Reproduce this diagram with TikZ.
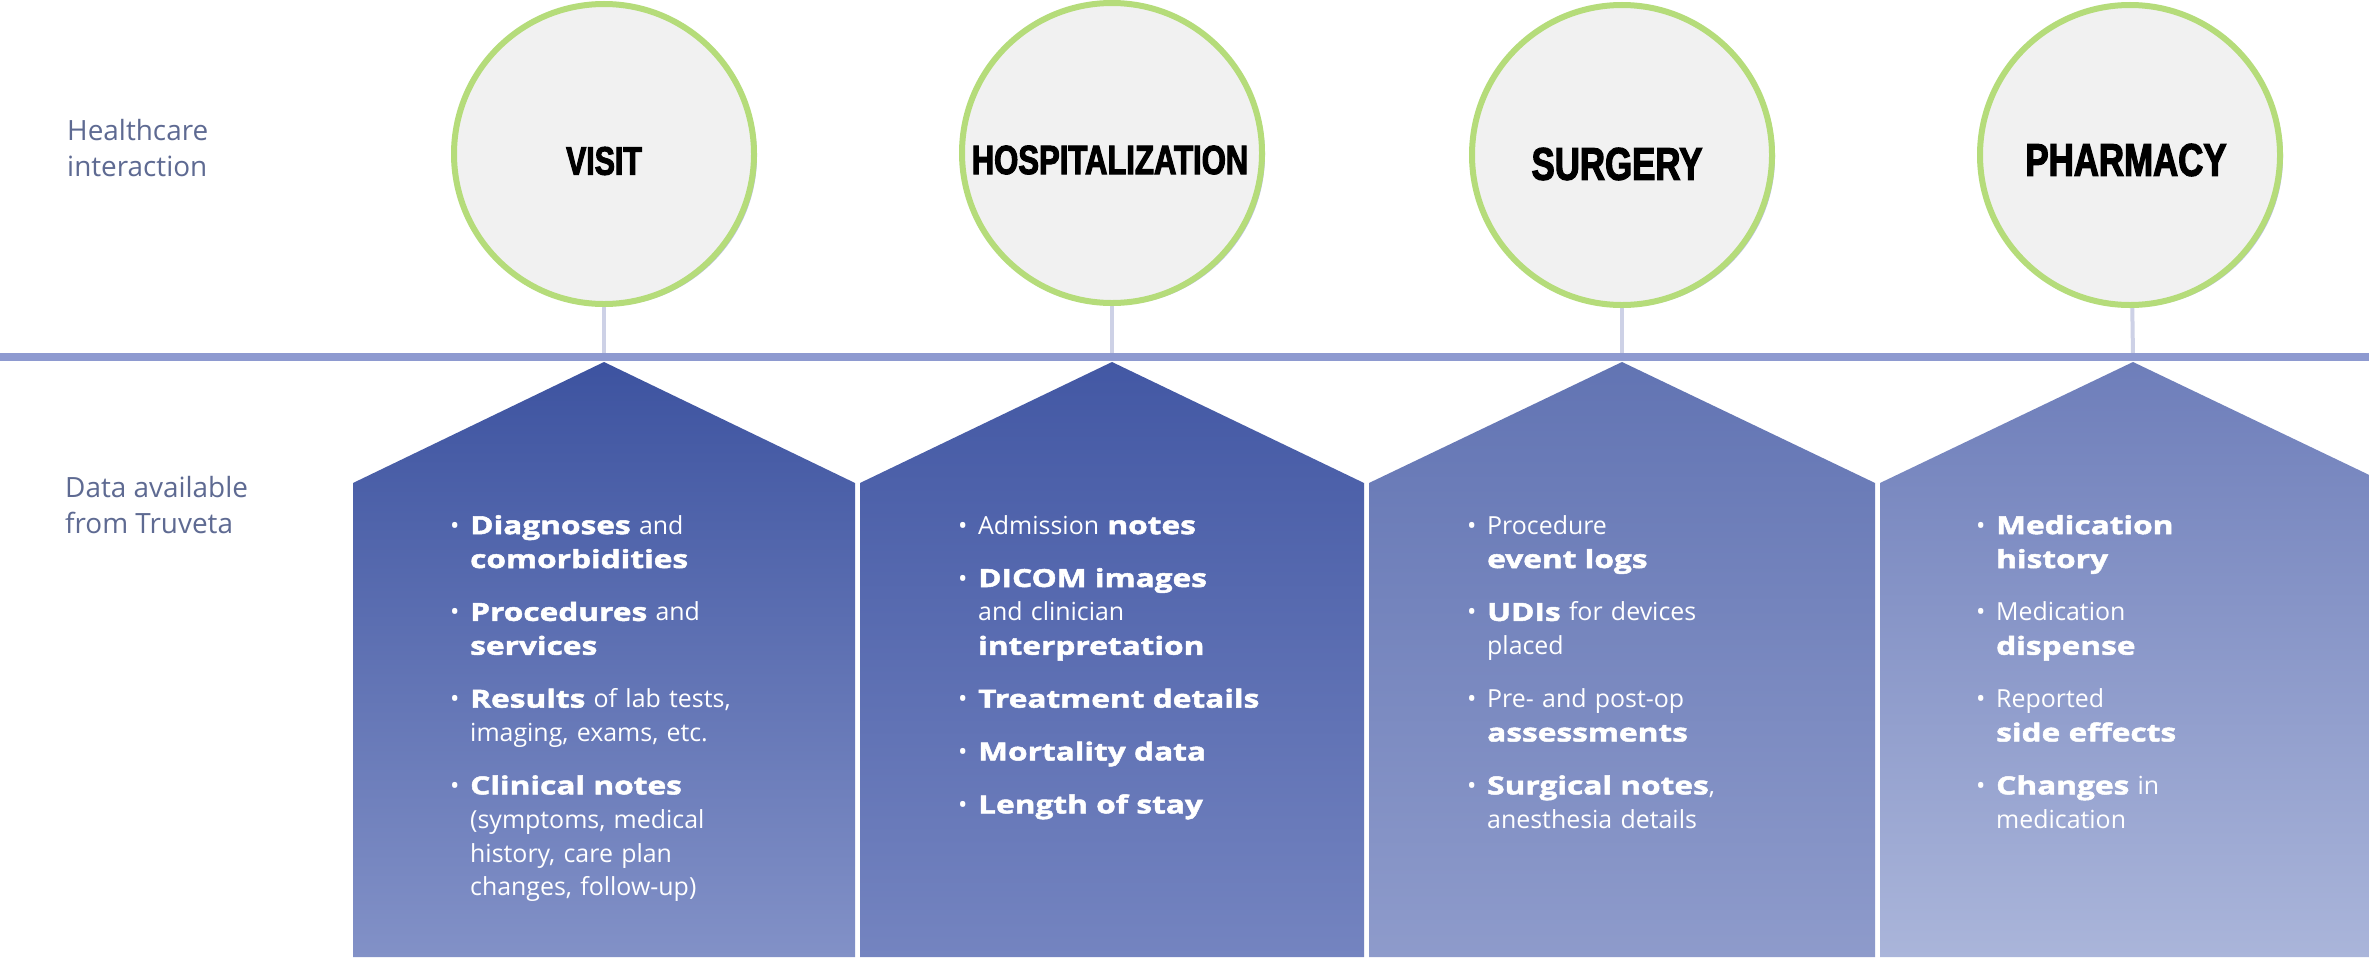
\documentclass[tikz,border=0pt]{standalone}
\usepackage{fontspec}
\setmainfont{Open Sans}
\newfontfamily\heavy{Open Sans}[FakeStretch=1.27,BoldFeatures={FakeBold=2}]
\newfontfamily\titlef{Liberation Sans}[FakeStretch=0.76,BoldFeatures={FakeBold=2.5}]
\usetikzlibrary{shadows}

\definecolor{lbl}{HTML}{5E6A92}
\definecolor{ring}{HTML}{B5DC7A}
\definecolor{disc}{HTML}{F1F1F1}
\definecolor{axis}{HTML}{8E9AD0}
\definecolor{stem}{HTML}{CDD1E6}
\definecolor{vT}{HTML}{3D53A0}\definecolor{vB}{HTML}{8291C7}
\definecolor{hT}{HTML}{4358A4}\definecolor{hB}{HTML}{7484C0}
\definecolor{sT}{HTML}{6274B3}\definecolor{sB}{HTML}{8E9BCB}
\definecolor{pT}{HTML}{6E7EBA}\definecolor{pB}{HTML}{AAB5DA}

\newcommand{\hb}[1]{{\heavy\bfseries #1}}
\newcommand{\bitem}[1]{\hangindent=20bp\hangafter=1\noindent\makebox[20bp][l]{\textbullet}#1\par\vspace{19bp}}

\tikzset{
  evtcircle/.style={circle, minimum size=300bp, inner sep=0pt, draw=ring, line width=6bp, fill=disc,
    drop shadow={shadow xshift=3bp, shadow yshift=-2bp, fill=axis, opacity=0.6}},
  evttitle/.style={inner sep=0pt, font=\titlef\bfseries\fontsize{#1}{#1}\selectfont, text=black},
  sidelbl/.style={anchor=north west, inner sep=0pt, align=left, text=lbl, font=\fontsize{28}{36}\selectfont},
  bullets/.style={anchor=north west, inner sep=0pt, text width=420bp, align=left, text=white, font=\fontsize{25}{34}\selectfont},
  axisline/.style={draw=axis, line width=8bp},
  stemline/.style={draw=stem, line width=4bp},
}

\begin{document}
\begin{tikzpicture}[x=1bp,y=-1bp]
\useasboundingbox (0,0) rectangle (2369,957);
\fill[white] (0,0) rectangle (2369,957);
\clip (0,0) rectangle (2369,957);

% side labels
\node[sidelbl] (hc) at (67,119) {Healthcare\\interaction};
\node[sidelbl] (dt) at (65,476) {Data available\\from Truveta};

% axis
\coordinate (axL) at (0,357);
\coordinate (axR) at (2369,357);
\coordinate (a1) at (604,357);
\coordinate (a2) at (1112,357);
\coordinate (a3) at (1622,357);
\coordinate (a4) at (2133,357);

% circle positions
\coordinate (visit) at (604,154);
\coordinate (hosp) at (1112,153);
\coordinate (surg) at (1622,155);
\coordinate (pharm) at (2130,155);

% stems
\draw[stemline] (visit) -- (a1);
\draw[stemline] (hosp) -- (a2);
\draw[stemline] (surg) -- (a3);
\draw[stemline] (pharm) -- (a4);

\draw[axisline] (axL) -- (axR);

% circles on top of stems
\node[evtcircle] (visit-c) at (visit) {};
\node[evtcircle] (hosp-c) at (hosp) {};
\node[evtcircle] (surg-c) at (surg) {};
\node[evtcircle] (pharm-c) at (pharm) {};

\node[evttitle=40] (visit-t) at (604,161) {VISIT};
\node[evttitle=41] (hosp-t) at (1110,160) {HOSPITALIZATION};
\node[evttitle=46] (surg-t) at (1617,164) {SURGERY};
\node[evttitle=46] (pharm-t) at (2126,160) {PHARMACY};

% panels
\shade[top color=vT, bottom color=vB] (353,957) -- (353,483) -- (604,362) -- (855,483) -- (855,957) -- cycle;
\shade[top color=hT, bottom color=hB] (860,957) -- (860,483) -- (1112,362) -- (1364,483) -- (1364,957) -- cycle;
\shade[top color=sT, bottom color=sB] (1369,957) -- (1369,483) -- (1622,362) -- (1875,483) -- (1875,957) -- cycle;
\shade[top color=pT, bottom color=pB] (1880,957) -- (1880,483) -- (2133,362) -- (2386,483) -- (2386,957) -- cycle;

% panel texts
\node[bullets] (visit-d) at (450,515) {%
\bitem{\hb{Diagnoses} and\newline\hb{comorbidities}}
\bitem{\hb{Procedures} and\newline\hb{services}}
\bitem{\hb{Results} of lab tests,\newline imaging, exams, etc.}
\bitem{\hb{Clinical notes}\newline(symptoms, medical\newline history, care plan\newline changes, follow-up)}};

\node[bullets] (hosp-d) at (958,515) {%
\bitem{Admission \hb{notes}}
\bitem{\hb{DICOM images}\newline and clinician\newline\hb{interpretation}}
\bitem{\hb{Treatment details}}
\bitem{\hb{Mortality data}}
\bitem{\hb{Length of stay}}};

\node[bullets] (surg-d) at (1467,515) {%
\bitem{Procedure\newline\hb{event logs}}
\bitem{\hb{UDIs} for devices\newline placed}
\bitem{Pre- and post-op\newline\hb{assessments}}
\bitem{\hb{Surgical notes},\newline anesthesia details}};

\node[bullets] (pharm-d) at (1976,515) {%
\bitem{\hb{Medication}\newline\hb{history}}
\bitem{Medication\newline\hb{dispense}}
\bitem{Reported\newline\hb{side effects}}
\bitem{\hb{Changes} in\newline medication}};
\end{tikzpicture}
\end{document}
